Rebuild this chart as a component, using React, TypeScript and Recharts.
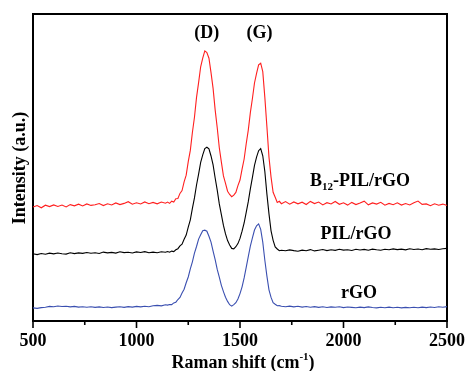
import React from 'react';
import { LineChart, Line, XAxis, YAxis, ReferenceArea } from 'recharts';

// Raman shift sampling points (cm-1)
const shifts = [
  500, 520, 540, 560, 580, 600, 620, 640, 660, 680, 700, 720, 740, 760, 780, 800, 820, 840, 860, 880,
  900, 920, 940, 960, 980, 1000, 1020, 1040, 1060, 1080, 1100, 1120, 1140,
  1150, 1160, 1170, 1180, 1190, 1200, 1210, 1220, 1230, 1240, 1250, 1260, 1270, 1280, 1290, 1300,
  1310, 1320, 1330, 1340, 1350, 1360, 1370, 1380, 1390, 1400, 1410, 1420, 1430, 1440, 1450, 1460,
  1470, 1480, 1490, 1500, 1510, 1520, 1530, 1540, 1550, 1560, 1570, 1580, 1590, 1600, 1610, 1620,
  1630, 1640, 1650, 1660, 1670, 1680, 1690, 1700,
  1720, 1740, 1760, 1780, 1800, 1820, 1840, 1860, 1880, 1900, 1920, 1940, 1960, 1980, 2000, 2020,
  2040, 2060, 2080, 2100, 2120, 2140, 2160, 2180, 2200, 2220, 2240, 2260, 2280, 2300, 2320, 2340,
  2360, 2380, 2400, 2420, 2440, 2460, 2480, 2500,
];

// B12-PIL/rGO (offset spectrum, a.u.)
const b12PilRgo = [
  114, 115.5, 113.2, 115.8, 114.4, 116.1, 114.6, 115.9, 114.1, 116.4, 115.2, 116.8, 115, 117.1, 115.6,
  116.3, 117.5, 115.4, 117.2, 116, 118.1, 116.4, 117.6, 119.3, 116.8, 118.2, 117, 119.1, 117.3, 118.6,
  117.2, 119, 117.8,
  118.9, 117.6, 119.8, 118.9, 122.3, 122.5, 127.6, 130.4, 139.1, 145.8, 159.3, 170.6, 188.5, 203.8,
  223.6, 238.4, 254.2, 262.9, 270.1, 268.4, 262.8, 248.3, 232.6, 211.1, 193.2, 173.2, 158.9, 145.1,
  137.6, 129.8, 126.5, 124.3, 125.8, 128.6, 135.4, 141, 151.9, 162, 177.2, 190.9, 208.4, 222.5, 238,
  247.6, 256.1, 257.8, 249.3, 223.6, 194.2, 163.9, 143.9, 128.7, 123.8, 118.6, 119.7, 117.3,
  119.4, 116.8, 119.1, 117.2, 118.8, 116.5, 119.6, 117.4, 118.9, 116.1, 118.3, 117, 119.5, 116.7,
  118.2, 115.9, 118.6, 116.4, 117.9, 119.8, 116.2, 118.1, 116.9, 118.7, 115.8, 117.6, 116.3, 118.2,
  115.9, 117.4, 116, 118.3, 119.9, 116.6, 117.1, 115.3, 117.2, 115.8, 116.9, 115.6,
];

// PIL/rGO
const pilRgo = [
  67.2, 66.4, 67.5, 66.8, 67.9, 67.1, 68, 67.3, 66.9, 68.2, 67.4, 68.1, 67.6, 68.5, 67.8, 68.3, 67.5,
  68.9, 68.1, 68.6, 67.9, 69.2, 68.4, 68.8, 68, 69.1, 68.5, 69.4, 68.2, 68.9, 68.3, 69.2, 68.7,
  69.5, 68.8, 69.9, 69.4, 71.2, 72.3, 75.1, 76.8, 81.7, 85.9, 93.8, 101.2, 112.6, 123.1, 136, 146.9,
  158.6, 166.1, 172.5, 173.8, 172.2, 165, 156.1, 143, 130.9, 117.1, 106.3, 95.6, 87.1, 80.4, 75.9,
  72.6, 72.1, 74.3, 77.4, 82.6, 89.8, 98, 108.7, 119.3, 132.2, 143.7, 155.6, 163.8, 170.3, 172.4,
  165.2, 149.5, 126.9, 107.1, 90.2, 80.7, 74.1, 72, 70.3, 70.8,
  70.2, 71.1, 70.4, 69.8, 70.9, 70.3, 71.4, 70.1, 70.8, 71.5, 70.4, 71.2, 70.6, 71.7, 70.9, 71.3,
  70.5, 71.8, 71, 71.6, 70.8, 71.9, 71.2, 70.7, 71.8, 71.3, 72.1, 71.4, 71.9, 71.1, 72.2, 71.5, 72,
  71.3, 72.4, 71.7, 72.1, 71.5, 72.3, 72.6,
];

// rGO
const rgo = [
  13.1, 12.6, 13.4, 13.8, 14.6, 14.2, 15, 14.5, 14.8, 14.1, 14.6, 13.9, 14.3, 13.7, 14.2, 13.6, 14.1,
  13.5, 14, 13.4, 13.9, 14.3, 13.6, 14.4, 13.9, 14.6, 14.1, 14.8, 14.3, 15.2, 15.6, 15.1, 16.2,
  15.9, 16.5, 16.4, 18.1, 18.8, 21.5, 23.6, 27.9, 31.8, 38.2, 44, 52.1, 59.2, 67.8, 74.5, 81.9, 86.2,
  90.3, 90.8, 89.8, 84.7, 78.9, 69.8, 61.4, 51.6, 43.8, 35.7, 29.4, 23.8, 19.6, 16.3, 14.9, 16.4,
  18.3, 22.1, 27.4, 34.2, 43.1, 53.6, 64.3, 74.9, 83.1, 91, 95.2, 97.1, 91.6, 78.9, 60.8, 44.9, 31.2,
  23.6, 18.3, 16.7, 15.2, 15.4, 14.8,
  14.2, 14.9, 14.1, 14.7, 13.9, 14.5, 13.8, 14.4, 13.6, 14.2, 13.5, 14.1, 13.7, 14.3, 13.4, 14, 13.6,
  13.2, 13.9, 13.4, 14.1, 13.5, 13.1, 13.8, 13.3, 13.9, 13.2, 13.7, 13.1, 13.6, 13.2, 13.8, 13.3,
  13.9, 13.4, 14, 13.5, 14.2, 13.7, 14.4,
];

const xTicks = [500, 750, 1000, 1250, 1500, 1750, 2000, 2250, 2500];
const seriesNames = ['B12-PIL/rGO', 'PIL/rGO', 'rGO'];
const peakNames = ['(D)', '(G)'];

const data = shifts.map((s, i) => ({
  shift: s,
  b12: b12PilRgo[i],
  pil: pilRgo[i],
  rgo: rgo[i],
}));

const FONT = "'Liberation Serif', 'DejaVu Serif', serif";

const XTick = (props: any) => {
  const { x, y, payload } = props;
  const v = payload.value;
  const major = v % 500 === 0;
  return (
    <g>
      <line x1={x} x2={x} y1={y} y2={y + (major ? 7 : 4)} stroke="#000" strokeWidth={1.6} />
      {major && (
        <text x={x} y={y + 24.7} textAnchor="middle" fontFamily={FONT} fontWeight="bold" fontSize={18} fill="#000">
          {v}
        </text>
      )}
    </g>
  );
};

const textStyle = { fontFamily: FONT, fontWeight: 'bold' as const, fontSize: 18, fill: '#000' };

export default function App() {
  return (
    <div style={{ position: 'fixed', left: 8, top: 8, width: 457, height: 363 }}>
      <LineChart
        width={457}
        height={363}
        data={data}
        margin={{ top: 6, right: 18, left: 25, bottom: 0 }}
      >
        <XAxis
          dataKey="shift"
          type="number"
          domain={[500, 2500]}
          ticks={xTicks}
          tick={<XTick />}
          tickLine={false}
          tickSize={0}
          tickMargin={0}
          axisLine={false}
          height={50}
          interval={0}
        />
        <YAxis hide type="number" domain={[0, 307]} />
        <ReferenceArea x1={500} x2={2500} y1={0} y2={307} fill="none" stroke="#000" strokeWidth={2} />
        <Line dataKey="b12" stroke="#ff1f1f" strokeWidth={1.1} dot={false} isAnimationActive={false} />
        <Line dataKey="pil" stroke="#000000" strokeWidth={1.1} dot={false} isAnimationActive={false} />
        <Line dataKey="rgo" stroke="#3a4fb0" strokeWidth={1.1} dot={false} isAnimationActive={false} />
        <text x={198.7} y={30.3} textAnchor="middle" style={textStyle}>{peakNames[0]}</text>
        <text x={251.5} y={30.3} textAnchor="middle" style={textStyle}>{peakNames[1]}</text>
        <text x={302} y={178} textAnchor="start" style={textStyle}>
          B<tspan fontSize={11} dy={4}>12</tspan><tspan dy={-4}>-PIL/rGO</tspan>
        </text>
        <text x={348} y={231.3} textAnchor="middle" style={textStyle}>{seriesNames[1]}</text>
        <text x={351} y={290.3} textAnchor="middle" style={textStyle}>{seriesNames[2]}</text>
        <text x={235} y={359.7} textAnchor="middle" style={textStyle}>
          Raman shift (cm<tspan fontSize={11} dy={-8}>-1</tspan><tspan dy={8}>)</tspan>
        </text>
        <text
          x={11}
          y={160}
          textAnchor="middle"
          dominantBaseline="central"
          transform="rotate(-90, 11, 160)"
          style={textStyle}
        >
          Intensity (a.u.)
        </text>
      </LineChart>
    </div>
  );
}
